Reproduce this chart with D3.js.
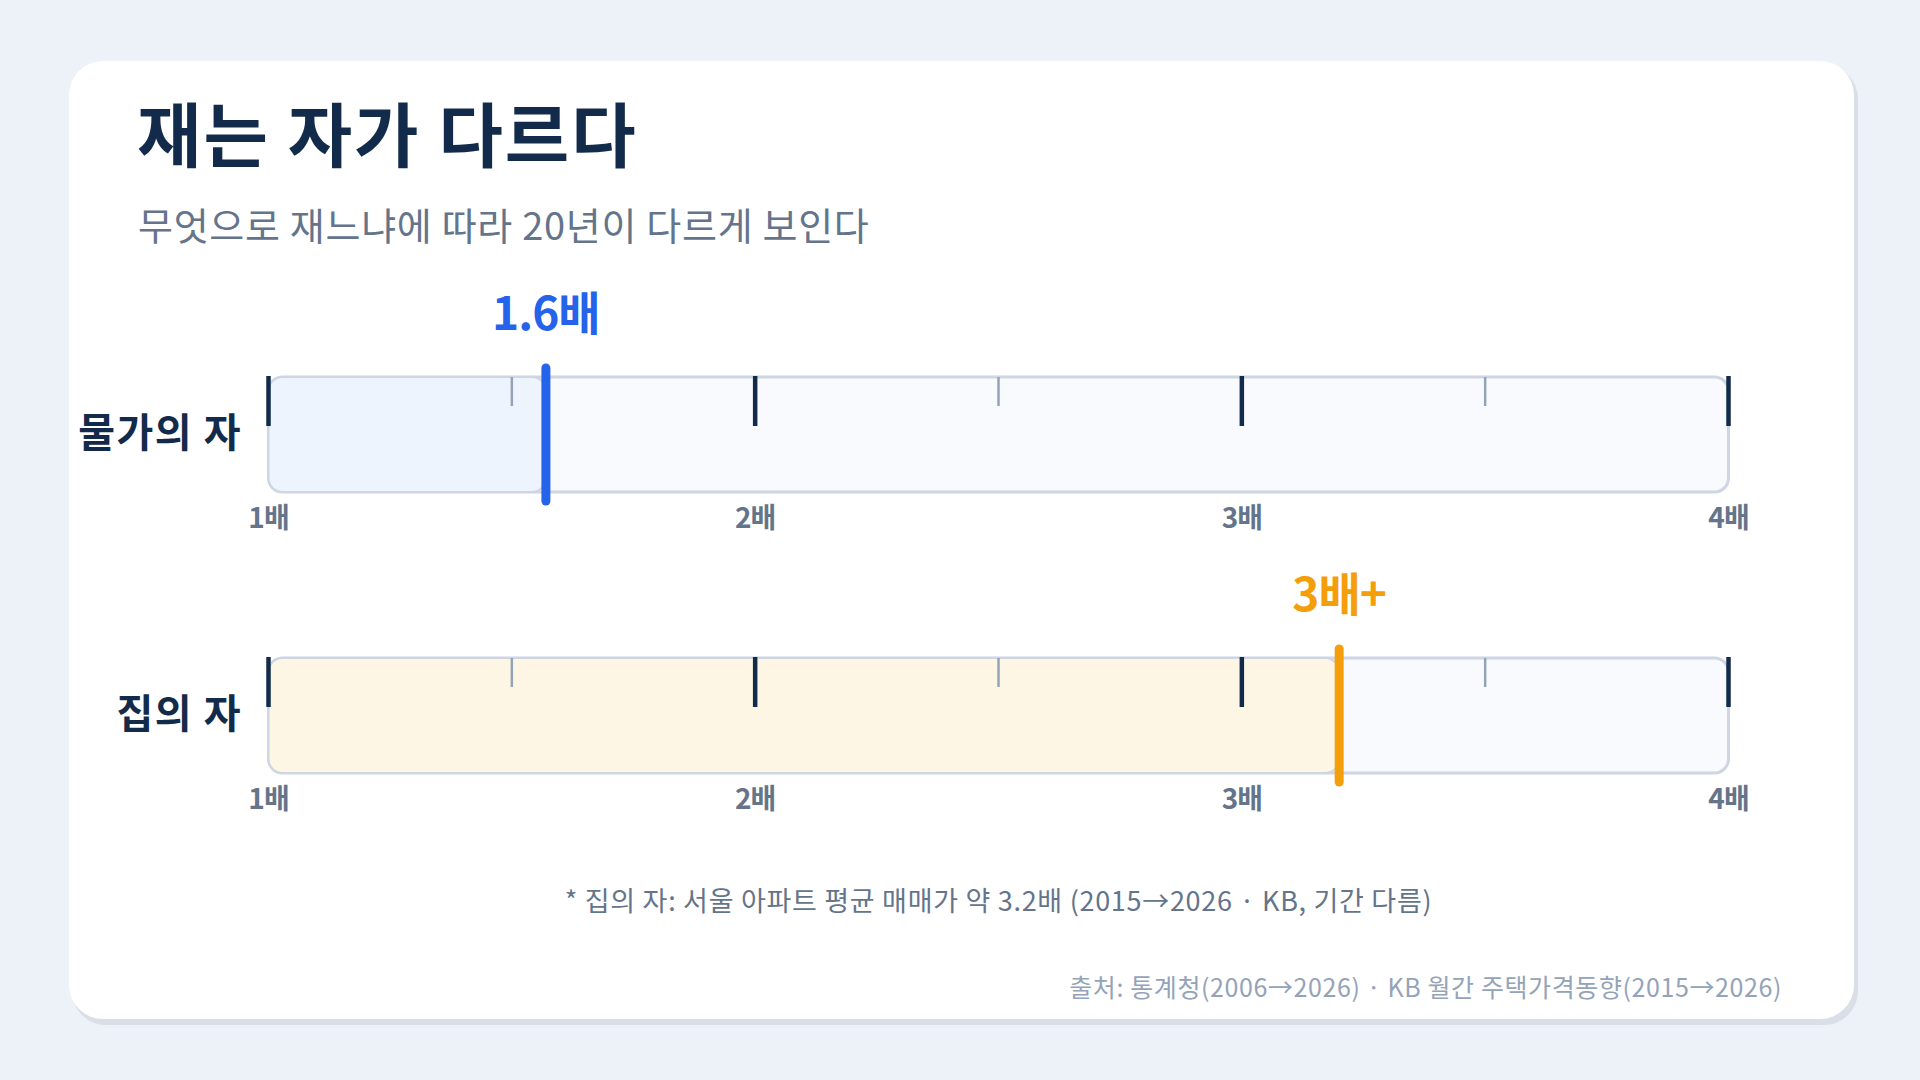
<!DOCTYPE html>
<html>
<head>
    <meta charset="utf-8">
    <script src="https://d3js.org/d3.v7.min.js"></script>
    <style>
        html, body { margin: 0; padding: 0; background-color: #edf1f8; }
        svg { display: block; font-family: 'Noto Sans CJK KR', 'Noto Sans', sans-serif; }
    </style>
    <title>재는 자가 다르다</title>
</head>
<body>
    <svg id="chart" width="1920" height="1080"></svg>

    <script>
        // data
        var rulers = ["물가의 자", "집의 자"];
        var values = [1.57, 3.2];
        var valueLabels = ["1.6배", "3배+"];
        var majorTicks = [1, 2, 3, 4];
        var minorTicks = [1.5, 2.5, 3.5];
        var tickLabels = ["1배", "2배", "3배", "4배"];

        var title = "재는 자가 다르다";
        var subtitle = "무엇으로 재느냐에 따라 20년이 다르게 보인다";
        var footnote = "* 집의 자: 서울 아파트 평균 매매가 약 3.2배 (2015→2026 · KB, 기간 다름)";
        var source = "출처: 통계청(2006→2026) · KB 월간 주택가격동향(2015→2026)";

        // styles
        var accent = ["#2563eb", "#f59e0b"];
        var fillTint = ["#eef4fe", "#fdf6e5"];
        var navy = "#132b4b";

        var svg = d3.select("#chart");

        svg.append("rect")
            .attr("width", 1920).attr("height", 1080)
            .attr("fill", "#edf1f8");

        // card + shadow
        svg.append("rect")
            .attr("x", 72).attr("y", 65)
            .attr("width", 1786).attr("height", 960)
            .attr("rx", 34)
            .attr("fill", "#d9dee7");
        svg.append("rect")
            .attr("x", 69).attr("y", 61)
            .attr("width", 1785).attr("height", 958)
            .attr("rx", 34)
            .attr("fill", "#ffffff");

        svg.append("text")
            .attr("x", 137).attr("y", 162)
            .attr("font-size", 70)
            .attr("font-weight", 700)
            .attr("letter-spacing", 2)
            .attr("fill", navy)
            .text(title);

        svg.append("text")
            .attr("x", 138).attr("y", 240)
            .attr("font-size", 38)
            .attr("font-weight", 400)
            .attr("letter-spacing", 0.7)
            .attr("fill", "#64748b")
            .text(subtitle);

        var x = d3.scaleLinear().domain([1, 4]).range([268.5, 1728.5]);
        var y = d3.scalePoint().domain(rulers).range([377, 658]);
        var trackH = 115;

        var row = svg.selectAll("g.row")
            .data(rulers)
            .enter().append("g")
            .attr("class", "row")
            .attr("transform", function (d) { return "translate(0," + y(d) + ")"; });

        // row labels
        row.append("text")
            .attr("x", 242)
            .attr("y", trackH / 2 + 12)
            .attr("text-anchor", "end")
            .attr("font-size", 40)
            .attr("font-weight", 700)
            .attr("letter-spacing", 1.5)
            .attr("fill", navy)
            .text(function (d) { return d; });

        // track
        row.append("rect")
            .attr("x", x(1)).attr("y", 0)
            .attr("width", x(4) - x(1)).attr("height", trackH)
            .attr("rx", 14)
            .attr("fill", "#f8fafd")
            .attr("stroke", "#cdd6e2")
            .attr("stroke-width", 3);

        // filled part up to value
        row.append("rect")
            .attr("x", x(1)).attr("y", 0)
            .attr("width", function (d, i) { return x(values[i]) - x(1); })
            .attr("height", trackH)
            .attr("rx", 14)
            .attr("fill", function (d, i) { return fillTint[i]; })
            .attr("stroke", "#cdd6e2")
            .attr("stroke-width", 2);

        // minor ticks
        row.selectAll("line.minor")
            .data(minorTicks)
            .enter().append("line")
            .attr("class", "minor")
            .attr("x1", function (d) { return x(d); })
            .attr("x2", function (d) { return x(d); })
            .attr("y1", 0).attr("y2", 29)
            .attr("stroke", "#94a3b8")
            .attr("stroke-width", 2.5);

        // major ticks
        row.selectAll("line.major")
            .data(majorTicks)
            .enter().append("line")
            .attr("class", "major")
            .attr("x1", function (d) { return x(d); })
            .attr("x2", function (d) { return x(d); })
            .attr("y1", -1).attr("y2", 49)
            .attr("stroke", navy)
            .attr("stroke-width", 4.5);

        // tick labels
        row.selectAll("text.tick")
            .data(majorTicks)
            .enter().append("text")
            .attr("class", "tick")
            .attr("x", function (d) { return x(d); })
            .attr("y", trackH + 36)
            .attr("text-anchor", "middle")
            .attr("font-size", 28)
            .attr("font-weight", 700)
            .attr("letter-spacing", -1)
            .attr("fill", "#64748b")
            .text(function (d, i) { return tickLabels[i]; });

        // value marker
        row.append("line")
            .attr("x1", function (d, i) { return x(values[i]); })
            .attr("x2", function (d, i) { return x(values[i]); })
            .attr("y1", -9).attr("y2", trackH + 9)
            .attr("stroke", function (d, i) { return accent[i]; })
            .attr("stroke-width", 9)
            .attr("stroke-linecap", "round");

        row.append("text")
            .attr("x", function (d, i) { return x(values[i]); })
            .attr("y", -47)
            .attr("text-anchor", "middle")
            .attr("font-size", 46)
            .attr("font-weight", 700)
            .attr("letter-spacing", -1)
            .attr("fill", function (d, i) { return accent[i]; })
            .text(function (d, i) { return valueLabels[i]; });

        svg.append("text")
            .attr("x", (x(1) + x(4)) / 2).attr("y", 911)
            .attr("text-anchor", "middle")
            .attr("font-size", 27)
            .attr("letter-spacing", 0.7)
            .attr("fill", "#64748b")
            .text(footnote);

        svg.append("text")
            .attr("x", 1782).attr("y", 997)
            .attr("text-anchor", "end")
            .attr("font-size", 25)
            .attr("letter-spacing", 0.6)
            .attr("fill", "#94a3b8")
            .text(source);
    </script>
</body>
</html>
